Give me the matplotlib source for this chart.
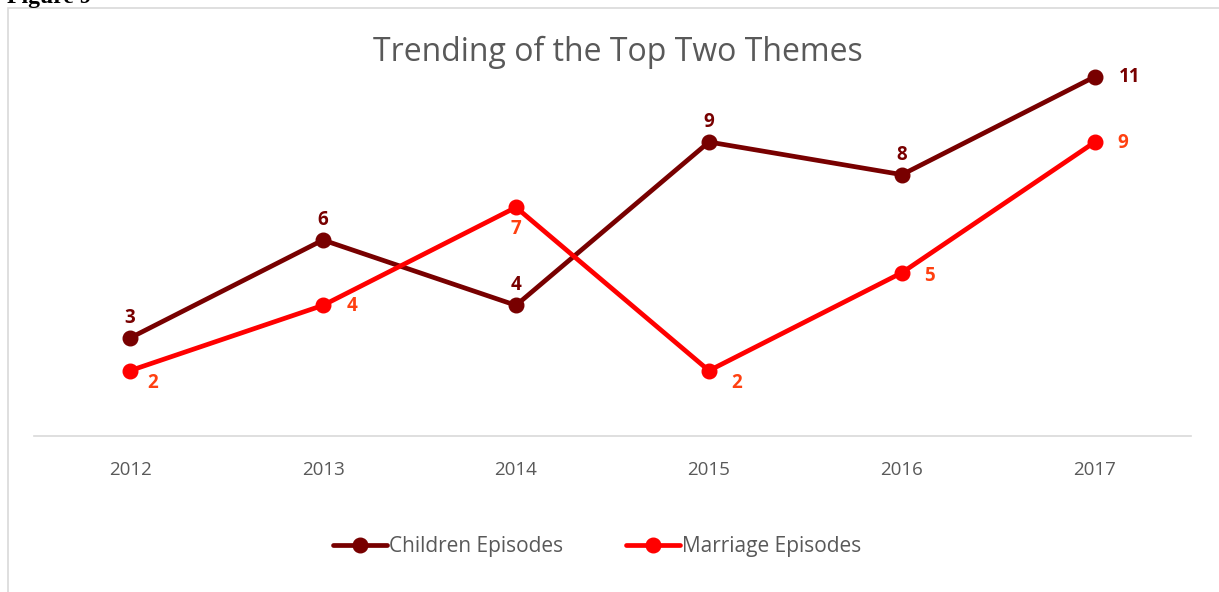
import matplotlib.pyplot as plt
from matplotlib.patches import Rectangle

years = ["2012", "2013", "2014", "2015", "2016", "2017"]
children = [3, 6, 4, 9, 8, 11]
marriage = [2, 4, 7, 2, 5, 9]

# label offsets in pixels (dx, dy)
children_offsets = [(0, 20), (0, 20), (0, 20), (0, 20), (0, 20), (35, 0)]
marriage_offsets = [(23, -12), (29, -1), (0, -22), (28, -12), (28, -3), (28, -1)]

plt.rcParams["font.family"] = ["Open Sans", "DejaVu Sans"]

dark_red = "#780000"
red = "#FF0000"
label_red = "#FF4010"
gray = "#595959"

fig = plt.figure(figsize=(12.19, 5.92), dpi=100)
ax = fig.add_axes([0.0275, 0.2635, 0.9499, 0.6622])

x = range(len(years))
ax.plot(x, children, color=dark_red, lw=3.4, marker="o", ms=10.5, label="Children Episodes",
        solid_capstyle="round")
ax.plot(x, marriage, color=red, lw=3.4, marker="o", ms=10.5, label="Marriage Episodes",
        solid_capstyle="round")

for i, v in enumerate(children):
    dx, dy = children_offsets[i]
    ax.annotate(str(v), (i, v), xytext=(dx, dy), textcoords="offset pixels",
                ha="center", va="center", color=dark_red, fontsize=13.5, fontweight="bold")
for i, v in enumerate(marriage):
    dx, dy = marriage_offsets[i]
    ax.annotate(str(v), (i, v), xytext=(dx, dy), textcoords="offset pixels",
                ha="center", va="center", color=label_red, fontsize=13.5, fontweight="bold")

ax.set_xlim(-0.5, len(years) - 0.5)
ax.set_ylim(0, 12)
ax.set_xticks(list(x))
ax.set_xticklabels(years, color=gray, fontsize=13.5)
ax.set_yticks([])
ax.tick_params(axis="x", length=0, pad=18)
for side in ["top", "right", "left"]:
    ax.spines[side].set_visible(False)
ax.spines["bottom"].set_color("#D9D9D9")
ax.spines["bottom"].set_linewidth(1.2)

fig.text(0.507, 0.912, "Trending of the Top Two Themes", ha="center", va="center",
         fontsize=23, color=gray)

fig.legend(loc="center", bbox_to_anchor=(0.49, 0.077), ncol=2, frameon=False,
           fontsize=15, labelcolor=gray, handlelength=2.6, handletextpad=0.1,
           columnspacing=3.0)

# chart border and clipped caption
fig.patches.append(Rectangle((8 / 1219, -0.01), 1.0, 1 - 8 / 592 + 0.01,
                             transform=fig.transFigure, fill=False,
                             edgecolor="#D9D9D9", lw=1.2))
fig.text(0.006, 1.005, "Figure 9", ha="left", va="center", fontsize=17,
         fontweight="bold", family="Liberation Serif")

fig.savefig("out.png", dpi=100)
